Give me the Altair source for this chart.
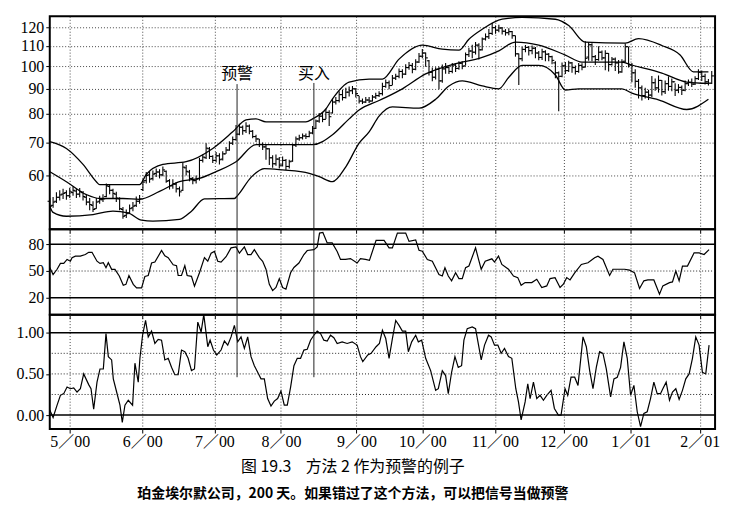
import altair as alt
import pandas as pd

# ---------------- data ----------------
# trading-day index 0..199
closes = [52.0, 53.0, 54.2, 54.8, 55.2, 54.6, 55.6, 56.0, 55.0, 55.6,
          54.4, 53.0, 52.4, 51.2, 53.0, 53.6, 53.8, 57.2, 56.0, 55.2,
          54.0, 51.4, 49.6, 50.2, 51.4, 52.0, 53.2, 53.8, 58.2, 60.0,
          59.0, 60.4, 61.0, 60.2, 61.6, 58.4, 57.2, 57.8, 56.4, 55.6,
          62.4, 61.2, 59.2, 58.6, 59.0, 64.4, 65.4, 68.2, 65.6, 64.4,
          65.8, 64.6, 66.4, 67.6, 69.8, 71.0, 72.8, 75.2, 74.0, 75.6,
          73.8, 72.0, 71.2, 69.4, 68.6, 68.0, 65.2, 63.4, 64.8, 63.0,
          64.4, 62.6, 64.0, 69.2, 71.2, 71.6, 72.2, 72.0, 73.2, 74.8,
          77.4, 79.2, 78.0, 80.6, 79.0, 84.6, 85.2, 87.6, 86.4, 88.6,
          89.2, 90.0, 88.0, 85.0, 84.6, 85.4, 85.0, 86.6, 87.2, 88.0,
          91.0, 92.6, 91.4, 94.6, 95.4, 97.6, 96.4, 99.4, 100.4, 98.6,
          102.0, 104.8, 106.4, 104.0, 97.2, 95.0, 98.6, 93.4, 98.8, 99.4,
          97.6, 100.6, 99.0, 101.4, 100.0, 105.6, 107.4, 106.8, 110.4, 108.0,
          113.6, 114.8, 116.6, 119.8, 118.4, 119.6, 117.8, 117.0, 117.6, 115.4,
          106.0, 103.6, 108.2, 109.2, 107.6, 108.8, 106.4, 104.2, 107.0, 105.8,
          104.6, 102.8, 97.0, 95.4, 100.2, 98.0, 101.6, 99.4, 97.6, 100.4,
          99.6, 103.8, 110.6, 104.6, 103.2, 106.8, 104.0, 106.2, 100.8, 103.4,
          101.6, 97.4, 102.0, 109.6, 100.6, 97.0, 93.2, 90.4, 87.2, 88.6,
          87.4, 92.6, 90.4, 93.6, 88.8, 92.2, 91.0, 93.0, 89.4, 90.6,
          89.4, 92.2, 92.8, 92.0, 94.4, 97.2, 95.4, 93.0, 92.4, 95.6]
highs = [54.0, 54.3, 55.5, 56.0, 56.4, 56.0, 56.6, 57.0, 56.5, 56.6,
         55.8, 54.8, 54.0, 53.2, 54.0, 54.6, 55.0, 57.8, 57.4, 56.4,
         55.6, 54.2, 51.8, 51.2, 52.4, 53.0, 54.4, 54.8, 59.0, 61.0,
         61.2, 61.4, 62.0, 61.8, 62.6, 61.4, 59.0, 59.0, 58.2, 57.0,
         63.8, 63.0, 61.6, 59.6, 60.0, 65.2, 66.2, 69.8, 68.6, 66.0,
         67.0, 66.6, 67.2, 68.6, 70.4, 72.0, 76.0, 76.4, 75.8, 77.0,
         76.2, 74.2, 72.6, 71.2, 70.0, 69.4, 68.2, 66.0, 66.2, 65.4,
         65.6, 64.8, 64.6, 69.6, 72.0, 72.6, 73.0, 73.0, 74.0, 75.6,
         78.0, 80.4, 80.8, 82.0, 81.4, 86.0, 86.6, 89.0, 89.6, 90.4,
         91.0, 91.2, 90.2, 87.0, 86.0, 86.6, 86.6, 87.4, 88.4, 89.0,
         92.6, 94.0, 93.6, 96.0, 96.6, 99.0, 98.6, 101.0, 102.0, 101.6,
         103.4, 106.4, 108.4, 106.6, 103.0, 99.4, 99.6, 99.8, 100.8, 101.6,
         100.2, 101.6, 101.4, 102.4, 102.4, 106.6, 109.0, 110.6, 112.0, 111.4,
         114.4, 116.6, 119.0, 122.6, 121.0, 121.4, 120.2, 119.0, 119.4, 118.0,
         115.4, 106.2, 109.6, 110.4, 110.0, 110.2, 109.4, 107.4, 108.6, 107.8,
         106.4, 105.0, 102.4, 97.6, 101.8, 102.0, 102.6, 102.0, 100.4, 101.6,
         101.4, 112.4, 112.0, 111.4, 105.4, 109.8, 107.6, 107.8, 106.4, 104.4,
         104.2, 103.0, 103.4, 111.2, 109.4, 101.6, 98.6, 94.2, 91.4, 90.4,
         89.6, 95.6, 94.4, 95.8, 93.8, 93.6, 95.4, 94.4, 92.4, 92.0,
         91.4, 93.6, 94.0, 94.4, 95.4, 98.6, 98.0, 96.6, 94.2, 97.8]
lows = [50.8, 51.6, 52.8, 53.4, 53.8, 53.6, 54.0, 54.6, 54.0, 54.2,
        53.4, 52.2, 51.0, 50.6, 51.4, 52.6, 53.0, 54.2, 55.0, 54.0,
        53.0, 51.0, 49.0, 49.2, 50.2, 50.8, 51.8, 52.6, 55.8, 57.8,
        58.0, 58.6, 59.6, 59.2, 59.8, 58.0, 56.2, 56.4, 55.4, 54.4,
        55.8, 60.0, 58.4, 57.6, 57.8, 58.6, 63.8, 64.8, 64.8, 63.6,
        63.8, 63.2, 64.4, 66.4, 67.4, 69.2, 70.6, 72.4, 72.6, 73.2,
        72.8, 71.4, 70.2, 68.6, 67.6, 64.6, 63.0, 62.2, 62.8, 62.0,
        62.6, 61.6, 62.0, 64.0, 68.6, 70.6, 71.0, 71.2, 71.8, 72.8,
        74.6, 76.8, 77.0, 78.2, 75.6, 80.2, 83.6, 84.4, 85.2, 86.0,
        86.8, 87.8, 86.4, 84.0, 83.8, 84.2, 84.2, 84.8, 85.8, 86.6,
        87.2, 90.4, 89.8, 91.6, 93.8, 94.6, 94.6, 96.0, 98.4, 96.8,
        98.2, 101.6, 103.8, 99.8, 95.8, 93.2, 94.0, 89.8, 92.6, 96.6,
        96.4, 96.8, 97.4, 98.4, 98.6, 100.4, 104.4, 103.8, 105.6, 103.2,
        107.6, 112.8, 113.6, 115.8, 116.4, 117.2, 116.0, 115.4, 115.6, 113.8,
        104.6, 91.6, 102.4, 106.8, 105.2, 105.8, 103.8, 102.8, 103.0, 102.4,
        102.4, 101.0, 94.6, 81.0, 95.0, 96.4, 97.4, 97.0, 96.2, 97.0,
        98.2, 99.4, 102.6, 102.4, 100.6, 102.6, 102.8, 98.2, 97.6, 100.4,
        97.8, 96.6, 97.0, 101.8, 99.4, 92.8, 90.4, 86.0, 85.2, 86.0,
        85.4, 86.6, 89.2, 88.4, 87.2, 87.8, 89.2, 89.0, 87.0, 88.2,
        87.4, 89.0, 91.2, 90.8, 91.6, 93.8, 93.4, 91.8, 91.4, 92.0]
opens = [53.2, 52.2, 53.2, 54.2, 55.0, 55.4, 54.6, 55.4, 55.8, 55.0,
         55.4, 54.2, 53.0, 52.2, 51.4, 53.2, 53.6, 54.4, 57.0, 56.0,
         55.0, 53.8, 51.2, 49.8, 50.4, 51.6, 52.2, 53.2, 56.2, 58.6,
         60.2, 59.2, 60.6, 61.0, 60.2, 61.2, 58.6, 57.2, 57.6, 56.4,
         56.0, 62.2, 61.0, 59.2, 58.6, 59.2, 64.4, 65.2, 68.0, 65.6,
         64.4, 65.8, 64.8, 66.4, 67.6, 69.8, 71.0, 72.8, 75.2, 74.0,
         75.6, 73.8, 72.0, 71.2, 69.4, 68.6, 68.0, 65.2, 63.4, 64.8,
         63.0, 64.4, 62.6, 64.2, 69.2, 71.2, 71.6, 72.2, 72.0, 73.2,
         74.8, 77.4, 79.2, 78.0, 80.6, 80.4, 84.6, 85.2, 87.6, 86.4,
         88.6, 89.2, 90.0, 87.2, 85.0, 84.6, 85.4, 85.0, 86.6, 87.2,
         88.0, 91.0, 92.6, 91.4, 94.6, 95.4, 97.6, 96.4, 99.4, 100.4,
         98.6, 102.0, 104.8, 106.4, 102.6, 97.2, 95.0, 98.6, 93.4, 98.8,
         99.4, 97.6, 100.6, 99.0, 101.4, 100.2, 105.6, 107.4, 106.8, 110.4,
         108.0, 113.6, 114.8, 116.6, 119.8, 118.4, 119.6, 117.8, 117.0, 117.6,
         115.4, 106.0, 103.6, 108.2, 109.2, 107.6, 108.8, 106.4, 104.2, 107.0,
         105.8, 104.6, 101.6, 97.0, 95.4, 100.2, 98.0, 101.6, 99.4, 97.6,
         100.4, 99.6, 104.4, 110.6, 104.6, 103.2, 106.8, 104.0, 106.2, 100.8,
         103.4, 101.6, 97.4, 102.4, 109.6, 100.6, 97.0, 93.2, 90.4, 87.2,
         88.6, 87.4, 92.6, 90.4, 93.6, 88.8, 92.2, 91.0, 93.0, 89.4,
         90.6, 89.4, 92.2, 92.8, 92.0, 94.4, 97.2, 95.4, 93.0, 92.4]

upper_days = [0, 5, 10, 14, 15, 27, 29, 34, 41, 49, 55, 59, 62, 65, 77, 79, 83, 85, 90, 96,
              100, 105, 112, 118, 123, 126, 130, 136, 142, 152, 156, 161, 173, 177, 184,
              189.5, 193.5, 198]
upper_vals = [70.3, 68.1, 63.2, 58.3, 57.5, 57.5, 60.3, 63.2, 64.0, 68.1, 73.6, 77.8, 78.2,
              77.1, 77.1, 78.2, 81.9, 85.9, 92.9, 94.2, 94.2, 103.4, 110.4, 108.3, 107.8,
              113.5, 118.9, 124.6, 125.7, 124.6, 121.0, 111.9, 111.4, 113.8, 110.2, 105.4,
              97.4, 97.4]
middle_days = [0, 5, 11, 15, 22, 27, 33, 39, 45, 50, 56, 62, 70, 79, 85, 90, 93, 99, 106,
               113, 121, 130, 135, 140, 147, 155, 160, 172, 175, 184, 191.5, 198]
middle_vals = [61.1, 58.3, 54.9, 53.9, 53.9, 53.7, 55.7, 58.3, 59.2, 61.1, 64.0, 69.3, 69.3,
               69.3, 72.6, 78.2, 81.5, 85.2, 90.0, 96.5, 100.8, 104.2, 107.5, 112.0, 110.4,
               105.4, 102.0, 102.0, 100.6, 96.9, 92.9, 92.3]
lower_days = [0, 1, 5, 13, 19, 23.5, 27.6, 31, 39, 42.6, 46.5, 55.5, 56.5, 60.5, 64.5, 70,
              78, 81, 85, 89, 93, 96, 99, 103, 111, 116, 120, 124, 130, 135, 138, 142, 147,
              152, 155, 159, 172, 175, 183, 191.5, 198]
lower_vals = [52.0, 50.5, 49.6, 50.0, 50.8, 50.4, 48.7, 48.5, 48.9, 50.8, 53.8, 53.9, 54.7,
              59.5, 62.0, 61.6, 60.6, 59.7, 58.3, 62.5, 69.8, 73.6, 79.2, 82.7, 82.2, 85.7,
              91.2, 93.4, 91.2, 90.0, 95.0, 100.4, 100.4, 96.0, 89.5, 90.0, 90.0, 88.2, 85.5,
              81.7, 85.7]

osc_days = [0, 1.0, 2.2, 3.2, 4.2, 5.2, 6.2, 6.7, 7.7, 9.2, 10.7, 11.7, 12.7, 14.2, 15.1, 16.1,
            16.9, 17.6, 18.6, 19.6, 20.9, 22.1, 22.9, 23.8, 25.1, 26.1, 27.6, 28.6, 29.6, 30.6,
            31.6, 33.6, 34.6, 35.6, 37.1, 38.1, 38.6, 39.6, 40.6, 41.3, 42.6, 43.5, 45.0, 46.5,
            47.5, 48.5, 49.5, 50.5, 51.5, 53.0, 54.5, 56.0, 57.0, 58.5, 59.5, 60.5, 61.5, 63.0,
            64.0, 65.0, 66.0, 67.0, 68.0, 69.0, 70.0, 71.0, 72.4, 73.4, 74.9, 76.4, 77.4, 79.4,
            80.4, 81.1, 82.1, 83.4, 84.9, 86.4, 87.4, 88.9, 90.4, 92.4, 93.4, 94.9, 96.1, 98.1,
            100.5, 102.0, 103.0, 104.5, 107.0, 108.0, 110.0, 111.0, 112.0, 113.5, 115.0, 117.0,
            118.0, 118.8, 119.8, 120.8, 122.0, 123.0, 124.0, 125.0, 126.0, 128.0, 128.9, 129.7,
            130.9, 132.9, 133.7, 134.9, 135.9, 137.9, 139.4, 140.7, 141.7, 142.9, 144.9, 146.4,
            147.9, 149.4, 150.4, 151.9, 153.4, 154.4, 155.4, 156.4, 157.8, 159.8, 161.8, 163.8,
            164.8, 166.3, 168.3, 169.3, 170.8, 172.8, 174.3, 175.8, 177.3, 178.6, 179.8, 181.6,
            183.3, 184.3, 186.3, 187.2, 188.2, 189.2, 190.2, 191.7, 193.7, 195.2, 196.7, 198.2]
osc_vals = [54, 46, 52, 58.5, 58.5, 63, 61, 65, 66.7, 66.7, 68.5, 71, 71, 61, 58.5, 59.3,
            53.7, 59.3, 51.9, 51.9, 44.4, 34, 35, 45, 35, 31, 31, 44, 45, 59,
            60, 73, 67, 65, 57, 56, 45, 45, 56, 45, 44, 33, 48, 65,
            61, 70, 72, 61, 60, 66, 76, 77, 70, 77, 68.5, 68.5, 74, 65,
            61, 52, 35, 28, 31.5, 41.5, 31.5, 29.6, 48, 54, 59, 68.5, 73, 74,
            77, 92.6, 93.3, 81.5, 81.5, 72, 63, 63, 64, 59, 64, 63, 62, 84.4,
            84.4, 76, 76, 92.6, 92.6, 83.3, 85, 73.3, 72.2, 63, 61, 46,
            44.4, 53.7, 44.4, 39, 48, 41.5, 41.5, 53.7, 55.6, 76, 63, 52,
            61, 63.7, 60, 66.7, 57.4, 52, 44.4, 42.6, 34, 37, 37, 40.7,
            31.5, 33.3, 41.5, 42.6, 31.5, 35.2, 42.6, 40, 48, 57.4, 59.3, 64.8,
            66.7, 63, 45, 52, 52, 52, 51, 48, 30.4, 39, 40, 40,
            24, 33.3, 37, 37.8, 50, 39, 55.6, 55.6, 70.4, 70.4, 68.5, 74]

pctb_days = [0, 1.0, 2.2, 3.2, 4.2, 5.2, 6.2, 7.2, 8.2, 9.2, 10.2, 11.7, 12.4, 13.2, 14.2, 15.1,
             16.1, 16.9, 17.6, 18.6, 19.1, 20.1, 21.1, 21.8, 22.6, 23.6, 24.9, 25.6, 26.6, 27.1,
             27.9, 28.8, 29.6, 30.6, 31.6, 32.6, 33.6, 34.6, 35.6, 36.6, 37.6, 38.6, 39.6, 40.6,
             41.6, 42.6, 43.5, 44.5, 45.5, 46.3, 47.5, 48.2, 49.2, 50.2, 51.5, 52.5, 53.5, 54.5,
             55.5, 56.5, 57.5, 58.5, 59.5, 60.5, 61.5, 62.5, 63.5, 64.5, 65.5, 66.5, 67.5, 68.5,
             69.5, 70.5, 71.4, 72.4, 73.4, 74.4, 75.4, 76.4, 77.4, 78.4, 79.4, 80.4, 81.4, 82.4,
             83.4, 84.4, 85.4, 86.4, 87.9, 89.4, 90.9, 92.4, 93.4, 94.1, 95.6, 96.6, 98.1, 99.1,
             100.0, 101.0, 102.0, 103.0, 104.0, 105.0, 106.0, 107.0, 107.8, 108.8, 110.0, 110.8,
             111.8, 113.0, 114.5, 116.0, 116.8, 118.0, 119.0, 119.8, 120.8, 121.8, 122.8, 123.8,
             124.5, 125.5, 127.0, 128.0, 128.9, 129.7, 130.7, 131.9, 132.7, 133.7, 134.7, 135.7,
             136.7, 137.9, 138.9, 140.1, 140.9, 141.7, 142.9, 143.7, 144.4, 145.4, 146.4, 147.4,
             148.4, 149.4, 150.7, 151.7, 152.9, 153.7, 154.9, 155.7, 156.7, 157.8, 158.8, 160.3,
             161.3, 162.3, 163.3, 164.3, 165.3, 166.3, 167.3, 168.6, 169.6, 170.6, 171.6, 172.6,
             173.6, 174.6, 175.6, 176.6, 177.6, 178.6, 179.6, 180.6, 181.6, 182.6, 183.6, 184.3,
             185.3, 186.3, 187.2, 188.2, 189.2, 190.2, 191.2, 192.2, 193.2, 194.2, 195.2, 196.2,
             197.2, 198.2]
pctb_vals = [0.06, -0.03, 0.12, 0.24, 0.26, 0.34, 0.32, 0.33, 0.28, 0.32, 0.50, 0.37, 0.32, 0.07,
             0.40, 0.56, 0.56, 0.99, 0.71, 0.67, 0.44, 0.28, 0.12, -0.09, 0.12, 0.18, 0.12, 0.63,
             0.40, 0.69, 0.97, 1.15, 0.95, 1.02, 0.87, 0.92, 0.91, 0.67, 0.69, 0.58, 0.49, 0.49,
             0.79, 0.77, 0.69, 0.54, 0.56, 1.13, 1.01, 1.22, 0.83, 0.91, 0.79, 0.73, 0.79, 0.90,
             0.85, 0.95, 1.09, 0.89, 0.95, 0.81, 0.95, 0.71, 0.60, 0.52, 0.44, 0.44, 0.20, 0.11,
             0.17, 0.20, 0.29, 0.12, 0.12, 0.34, 0.60, 0.69, 0.69, 0.79, 0.80, 0.91, 0.97, 1.02,
             0.99, 0.91, 0.90, 0.97, 0.94, 0.87, 0.89, 0.87, 0.89, 0.85, 0.71, 0.65, 0.73, 0.75,
             0.83, 0.87, 1.03, 0.93, 0.69, 0.93, 1.15, 1.09, 1.02, 1.02, 0.77, 0.89, 0.97, 0.89,
             0.91, 0.69, 0.54, 0.30, 0.32, 0.54, 0.48, 0.26, 0.52, 0.71, 0.58, 0.60, 0.91, 1.05,
             1.07, 1.05, 0.85, 0.67, 0.85, 0.97, 0.95, 0.85, 0.85, 0.75, 0.81, 0.71, 0.69, 0.32,
             0.16, -0.06, 0.16, 0.38, 0.20, 0.40, 0.20, 0.24, 0.18, 0.24, 0.30, 0.08, 0.0, 0.0,
             0.32, 0.24, 0.46, 0.46, 0.36, 0.95, 0.83, 0.54, 0.32, 0.58, 0.77, 0.75, 0.56, 0.22,
             0.44, 0.46, 0.58, 0.89, 0.69, 0.24, 0.36, 0.04, -0.14, 0.02, 0.04, 0.20, 0.40, 0.26,
             0.26, 0.32, 0.40, 0.18, 0.28, 0.32, 0.19, 0.30, 0.44, 0.50, 0.69, 0.95, 0.85, 0.52,
             0.50, 0.85]

month_days = [6, 27.8, 49.5, 69.5, 92.2, 112, 133.8, 154.5, 174.6, 195.4]
month_labels = ["5／00", "6／00", "7／00", "8／00", "9／00", "10／00", "11／00", "12／00", "1／01", "2／01"]

price_ticks = [60, 70, 80, 90, 100, 110, 120]
price_domain = [46.7, 126.3]
osc_ticks = [20, 50, 80]
osc_solid = [20, 80]
osc_dotted = [50]
osc_domain = [1, 97]
pctb_ticks = [0.0, 0.25, 0.5, 0.75, 1.0]
pctb_solid = [0.0, 1.0]
pctb_dotted = [0.25, 0.5, 0.75]
pctb_domain = [-0.17, 1.22]

signal_labels = ["预警", "买入"]
signal_days = [56.3, 79.4]
signal_top_price = [92.0, 92.5]
signal_label_price = [96.5, 96.5]
signal_bottom_pctb = [0.46, 0.46]

title_text = "图 19.3\u00a0\u00a0\u00a0\u00a0方法 2 作为预警的例子"
subtitle_text = "珀金埃尔默公司，200 天。如果错过了这个方法，可以把信号当做预警"

# ---------------- tables ----------------
bars = pd.DataFrame({"day": list(range(len(closes))), "open": opens, "high": highs,
                     "low": lows, "close": closes})
bands = pd.concat([
    pd.DataFrame({"day": upper_days, "value": upper_vals, "band": "upper"}),
    pd.DataFrame({"day": middle_days, "value": middle_vals, "band": "middle"}),
    pd.DataFrame({"day": lower_days, "value": lower_vals, "band": "lower"}),
])
osc = pd.DataFrame({"day": osc_days, "value": osc_vals})
pctb = pd.DataFrame({"day": pctb_days, "value": pctb_vals})
signals = pd.DataFrame({"day": signal_days, "label": signal_labels,
                        "top": signal_top_price, "lab": signal_label_price,
                        "pbot": signal_bottom_pctb,
                        "pmin": [price_domain[0]] * 2, "pmax": [pctb_domain[1]] * 2})

W = 669
SERIF = "Liberation Serif, Times New Roman, serif"
CJK = "Noto Sans CJK SC"

label_expr = ("[" + ",".join("'" + l + "'" for l in month_labels) + "][indexof(["
              + ",".join(str(d) for d in month_days) + "], datum.value)]")


def x_enc(show_labels):
    return alt.X("day:Q", scale=alt.Scale(domain=[0, 200], nice=False, zero=False),
                 axis=alt.Axis(values=month_days, labels=show_labels, labelExpr=label_expr,
                               title=None, grid=True, ticks=True, tickSize=4,
                               labelFont="Liberation Serif, Noto Sans CJK SC",
                               labelFontSize=16, labelPadding=1, labelFlush=False))


def y_axis(values, fmt=None):
    kw = dict(values=values, title=None, labelFont=SERIF, labelFontSize=16,
              labelColor="black", tickSize=4, labelPadding=2)
    if fmt:
        kw["format"] = fmt
    return kw


# ---------------- price panel ----------------
py_scale = alt.Scale(type="log", domain=price_domain, nice=False, zero=False)
py_axis = alt.Axis(grid=True, **y_axis(price_ticks))

hl = alt.Chart(bars).mark_rule(color="black", strokeWidth=1.1).encode(
    x=x_enc(False), y=alt.Y("low:Q", scale=py_scale, axis=py_axis), y2="high:Q")
op = alt.Chart(bars).mark_rule(color="black", strokeWidth=1.1, xOffset=-2.2).encode(
    x="day:Q", x2="day:Q", y="open:Q")
cl = alt.Chart(bars).mark_rule(color="black", strokeWidth=1.1, x2Offset=2.2).encode(
    x="day:Q", x2="day:Q", y="close:Q")
band_lines = alt.Chart(bands).mark_line(color="black", strokeWidth=1.3,
                                        interpolate="monotone").encode(
    x="day:Q", y="value:Q", detail="band:N")
sig_rule_p = alt.Chart(signals).mark_rule(color="#222", strokeWidth=1).encode(
    x="day:Q", y="top:Q", y2="pmin:Q")
sig_text = alt.Chart(signals).mark_text(font=CJK, fontSize=16, color="black",
                                        align="center", baseline="middle").encode(
    x="day:Q", y="lab:Q", text="label:N")
price_panel = alt.layer(hl, op, cl, band_lines, sig_rule_p, sig_text).properties(
    width=W, height=214)

# ---------------- oscillator panel ----------------
oy = alt.Y("value:Q", scale=alt.Scale(domain=osc_domain, nice=False, zero=False),
           axis=alt.Axis(grid=False, **y_axis(osc_ticks)))
osc_line = alt.Chart(osc).mark_line(color="black", strokeWidth=1.2).encode(x=x_enc(False), y=oy)
osc_s = alt.Chart(pd.DataFrame({"value": osc_solid})).mark_rule(
    color="black", strokeWidth=1.6).encode(y="value:Q")
osc_d = alt.Chart(pd.DataFrame({"value": osc_dotted})).mark_rule(
    color="#222", strokeWidth=1, strokeDash=[1, 2]).encode(y="value:Q")
sig_rule_o = alt.Chart(signals).mark_rule(color="#222", strokeWidth=1).encode(x="day:Q")
osc_panel = alt.layer(osc_line, osc_s, osc_d, sig_rule_o).properties(width=W, height=86)

# ---------------- %b panel ----------------
by = alt.Y("value:Q", scale=alt.Scale(domain=pctb_domain, nice=False, zero=False),
           axis=alt.Axis(grid=False, **y_axis(pctb_ticks, ".2f")))
pb_line = alt.Chart(pctb).mark_line(color="black", strokeWidth=1.2).encode(x=x_enc(True), y=by)
pb_s = alt.Chart(pd.DataFrame({"value": pctb_solid})).mark_rule(
    color="black", strokeWidth=1.6).encode(y="value:Q")
pb_d = alt.Chart(pd.DataFrame({"value": pctb_dotted})).mark_rule(
    color="#222", strokeWidth=1, strokeDash=[1, 2]).encode(y="value:Q")
sig_rule_b = alt.Chart(signals).mark_rule(color="#222", strokeWidth=1).encode(
    x="day:Q", y="pmax:Q", y2="pbot:Q")
pb_panel = alt.layer(pb_line, pb_s, pb_d, sig_rule_b).properties(width=W, height=115)

chart = alt.vconcat(price_panel, osc_panel, pb_panel, spacing=0, bounds="flush").resolve_scale(
    x="shared", y="independent"
).properties(
    padding={"left": 7, "top": 4, "right": 5, "bottom": 2},
    title=alt.TitleParams(text=title_text, subtitle=subtitle_text, orient="bottom",
                          anchor="middle", dx=-15, offset=8, font=CJK, fontSize=16,
                          fontWeight="normal", color="black", subtitleFont=CJK,
                          subtitleFontSize=14, subtitleFontWeight="bold",
                          subtitleColor="black", subtitlePadding=12)
).configure_view(
    stroke="black", strokeWidth=2
).configure_axis(
    labelFont=SERIF, labelFontSize=16, labelColor="black", tickColor="black",
    domain=False, gridColor="#333", gridDash=[1, 2], gridWidth=0.9,
    tickSize=4, labelPadding=2
).configure_concat(spacing=0)

chart.save("out.html", embed_options={"renderer": "svg", "actions": False})
